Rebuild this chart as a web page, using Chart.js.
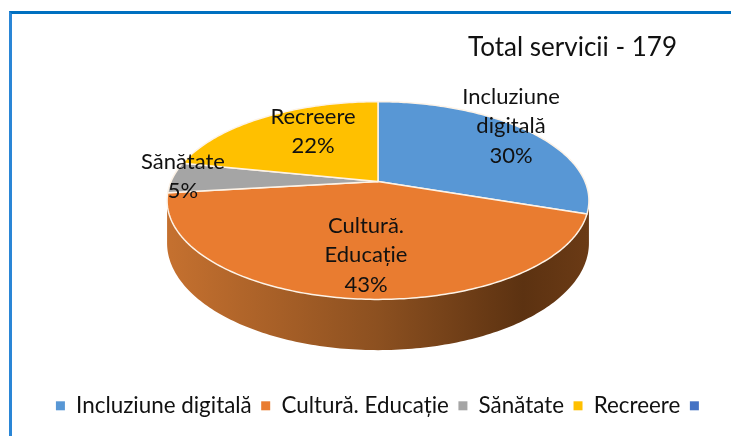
<!DOCTYPE html>
<html>
<head>
<meta charset="utf-8">
<script src="https://cdn.jsdelivr.net/npm/chart.js@4"></script>
<style>
  html, body { margin: 0; padding: 0; background: #fff; overflow: hidden; }
  #wrap { position: relative; width: 731px; height: 436px; }
  #wrap:before { content: ""; position: absolute; left: 9px; top: 11px; right: 0; bottom: 0;
    border-left: 3px solid #2a86d6; border-top: 3px solid #0070c0; }
  #title { position: absolute; right: 54px; top: 30px; font: 26px Lato, sans-serif; color: #111; white-space: nowrap; }
</style>
</head>
<body>
<div id="wrap">
  <canvas id="pieChart" width="731" height="436"></canvas>
  <div id="title">Total servicii - 179</div>
</div>
<script>
const categories = ['Incluziune digitală', 'Cultură. Educație', 'Sănătate', 'Recreere', ''];
const services = [54, 77, 9, 39, 0];
const colors = ['#5897d5', '#e97c30', '#a5a5a5', '#ffc000', '#4472c4'];
const wrappedLabels = [['Incluziune', 'digitală'], ['Cultură.', 'Educație'], ['Sănătate'], ['Recreere']];
// baseline of each data label, relative to the pie centre
const labelOffsets = [[133, -78], [-12, 51], [-195, -13], [-65, -58]];

const tilt = 0.46, perspective = 0.192, depth = 41;
// the pie sits a bit left of and above the centre of the chart area
const shiftX = -5, shiftY = -11;

function centre(arc) {
  return { x: arc.x + shiftX, y: arc.y + shiftY };
}

function project(arc, angle, drop) {
  const c = centre(arc);
  const v = Math.sin(angle);
  const w = 1 - perspective * v;
  return {
    x: c.x + arc.outerRadius * Math.cos(angle) / w,
    y: c.y + (arc.outerRadius * tilt * v + (drop || 0)) / w
  };
}

function traceRim(ctx, arc, from, to, drop, first) {
  const steps = Math.max(2, Math.ceil(Math.abs(to - from) * 60));
  for (let i = 0; i <= steps; i++) {
    const p = project(arc, from + (to - from) * i / steps, drop);
    if (i === 0 && first) ctx.moveTo(p.x, p.y);
    else ctx.lineTo(p.x, p.y);
  }
}

const pie3d = {
  id: 'pie3d',
  beforeDatasetDraw(chart) {
    const ctx = chart.ctx;
    const arcs = chart.getDatasetMeta(0).data;
    const edge = Math.asin(perspective);

    // side wall, only the part that faces the viewer
    arcs.forEach((arc) => {
      const from = Math.max(arc.startAngle, edge);
      const to = Math.min(arc.endAngle, Math.PI - edge);
      if (to <= from) return;
      const c = centre(arc);
      const g = ctx.createLinearGradient(c.x - arc.outerRadius, 0, c.x + arc.outerRadius, 0);
      g.addColorStop(0, '#c4702f');
      g.addColorStop(0.5, '#8c5020');
      g.addColorStop(0.85, '#5c3211');
      g.addColorStop(1, '#6a3a15');
      ctx.beginPath();
      traceRim(ctx, arc, from, to, 0, true);
      traceRim(ctx, arc, to, from, depth, false);
      ctx.closePath();
      ctx.fillStyle = g;
      ctx.fill();
    });

    // top face
    arcs.forEach((arc, i) => {
      if (arc.endAngle - arc.startAngle <= 0) return;
      const c = centre(arc);
      ctx.beginPath();
      ctx.moveTo(c.x, c.y);
      traceRim(ctx, arc, arc.startAngle, arc.endAngle, 0, false);
      ctx.closePath();
      ctx.fillStyle = colors[i];
      ctx.fill();
      ctx.strokeStyle = '#fdf3e7';
      ctx.lineWidth = 1.5;
      ctx.lineJoin = 'round';
      ctx.stroke();
    });

    // data labels
    const total = services.reduce((a, b) => a + b, 0);
    ctx.font = '22px Lato, sans-serif';
    ctx.fillStyle = '#111';
    ctx.textAlign = 'center';
    ctx.textBaseline = 'alphabetic';
    wrappedLabels.forEach((lines, i) => {
      const c = centre(arcs[i]);
      const rows = lines.concat(Math.round(services[i] / total * 100) + '%');
      rows.forEach((row, r) => {
        ctx.fillText(row, c.x + labelOffsets[i][0], c.y + labelOffsets[i][1] + r * 29.5);
      });
    });
    return false;
  }
};

new Chart(document.getElementById('pieChart').getContext('2d'), {
  type: 'pie',
  data: {
    labels: categories,
    datasets: [{ data: services, backgroundColor: colors, borderWidth: 0 }]
  },
  options: {
    responsive: false,
    animation: false,
    radius: 207,
    layout: { padding: { left: 35, bottom: 9 } },
    plugins: {
      tooltip: { enabled: false },
      legend: {
        position: 'bottom',
        labels: {
          boxWidth: 9,
          boxHeight: 9,
          padding: 9.5,
          color: '#111',
          font: { family: 'Lato, sans-serif', size: 22.4 }
        }
      }
    }
  },
  plugins: [pie3d]
});
</script>
</body>
</html>
